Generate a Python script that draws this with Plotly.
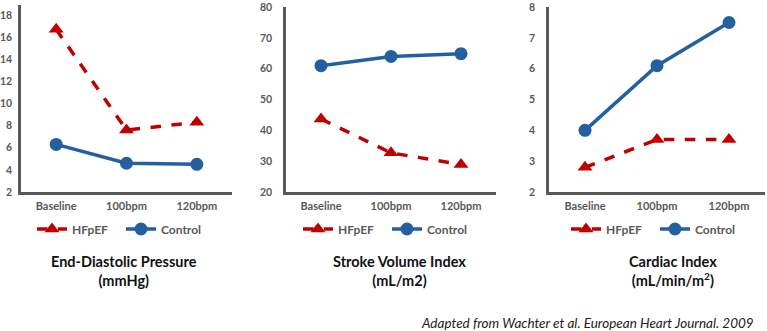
import plotly.graph_objects as go

categories = ["Baseline", "100bpm", "120bpm"]
edp_hfpef = [16.7, 7.6, 8.3]
edp_control = [6.3, 4.6, 4.5]
svi_hfpef = [43.7, 32.7, 28.9]
svi_control = [61.0, 64.0, 64.9]
ci_hfpef = [2.8, 3.7, 3.7]
ci_control = [4.0, 6.1, 7.5]
titles = ["End-Diastolic Pressure<br>(mmHg)", "Stroke Volume Index<br>(mL/m2)",
          "Cardiac Index<br>(mL/min/m<sup>2</sup>)"]
footnote = "Adapted from Wachter et al. European Heart Journal. 2009"

W, H = 767, 331
RED = "#C00000"
BLUE = "#245FA0"
GREY = "#595959"
FONT = "Lato"

fig = go.Figure()
panels = [
    (edp_hfpef, edp_control, "x", "y", "legend"),
    (svi_hfpef, svi_control, "x2", "y2", "legend2"),
    (ci_hfpef, ci_control, "x3", "y3", "legend3"),
]
for hf, ct, xa, ya, lg in panels:
    fig.add_trace(go.Scatter(x=categories, y=hf, name="HFpEF", xaxis=xa, yaxis=ya, legend=lg,
                             mode="lines+markers",
                             line=dict(color=RED, width=3.5, dash="dash"),
                             marker=dict(symbol="triangle-up", size=13, color=RED)))
    fig.add_trace(go.Scatter(x=categories, y=ct, name="Control", xaxis=xa, yaxis=ya, legend=lg,
                             mode="lines+markers",
                             line=dict(color=BLUE, width=3.5),
                             marker=dict(symbol="circle", size=13, color=BLUE)))

xdoms = [(21 / W, 232 / W), (286 / W, 496 / W), (549 / W, 765 / W)]
ybot = (H - 192) / H
ytops = [(H - 5) / H, (H - 6.5) / H, (H - 6.5) / H]
yranges = [[2, 18.9], [20, 80.2], [2, 8.02]]
ytickvals = [list(range(2, 19, 2)), list(range(20, 81, 10)), list(range(2, 9, 1))]
ystandoff = [4, 9, 9]
ysize = [10.5, 10.5, 10.5]

layout = dict(width=W, height=H, margin=dict(l=0, r=0, t=0, b=0, autoexpand=False),
              paper_bgcolor="white", plot_bgcolor="white",
              font=dict(family=FONT, color=GREY))
for i in range(3):
    sfx = "" if i == 0 else str(i + 1)
    layout["xaxis" + sfx] = dict(domain=list(xdoms[i]), anchor="y" + sfx, type="category",
                                 range=[-0.5, 2.5], showgrid=False, zeroline=False,
                                 showline=True, linecolor=GREY, linewidth=2.5,
                                 ticks="", ticklabelstandoff=2,
                                 tickfont=dict(family=FONT, size=11, color=GREY, weight="bold"),
                                 fixedrange=True)
    layout["yaxis" + sfx] = dict(domain=[ybot, ytops[i]], anchor="x" + sfx,
                                 range=yranges[i], tickvals=ytickvals[i],
                                 showgrid=False, zeroline=False,
                                 showline=True, linecolor=GREY, linewidth=2.5,
                                 ticks="", ticklabelstandoff=ystandoff[i], ticklabeloverflow="allow",
                                 tickfont=dict(family=FONT, size=ysize[i], color=GREY, weight="bold"),
                                 fixedrange=True)

legx = [32, 298, 566]
for i in range(3):
    key = "legend" if i == 0 else "legend" + str(i + 1)
    layout[key] = dict(orientation="h", x=legx[i] / W, xanchor="left", y=(H - 229) / H,
                       yanchor="middle", bgcolor="rgba(0,0,0,0)",
                       font=dict(family=FONT, size=12, color=GREY, weight="bold"),
                       itemwidth=30, entrywidth=44, entrywidthmode="pixels",
                       tracegroupgap=0, borderwidth=0)

fig.update_layout(**layout)

title_cx = [124, 399, 673]
for i in range(3):
    fig.add_annotation(text="<b>" + titles[i] + "</b>", x=title_cx[i] / W, y=(H - 271) / H,
                       xref="paper", yref="paper", xanchor="center", yanchor="middle",
                       showarrow=False, align="center",
                       font=dict(family=FONT, size=14.5, color="#111111"))

fig.add_annotation(text="<i>" + footnote + "</i>", x=756 / W, y=(H - 323) / H,
                   xref="paper", yref="paper", xanchor="right", yanchor="middle",
                   showarrow=False, font=dict(family=FONT, size=13.5, color="#222222"))

fig.write_html("out.html")
